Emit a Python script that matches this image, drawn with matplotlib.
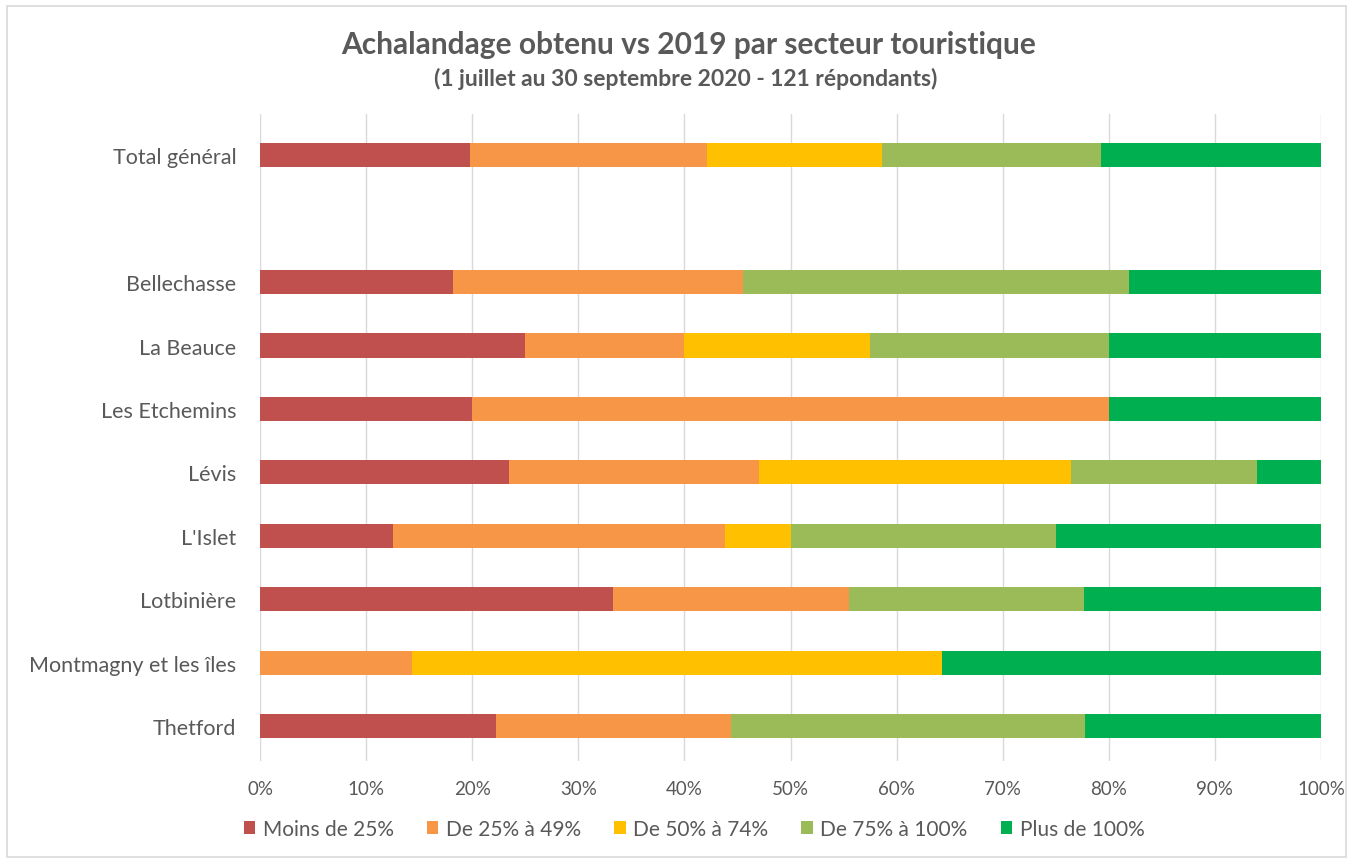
import matplotlib.pyplot as plt
from matplotlib.patches import Rectangle
import numpy as np

plt.rcParams['font.family'] = ['Lato', 'DejaVu Sans']

secteurs = ["Total général", "", "Bellechasse", "La Beauce", "Les Etchemins", "Lévis",
            "L'Islet", "Lotbinière", "Montmagny et les îles", "Thetford"]
categories = ["Moins de 25%", "De 25% à 49%", "De 50% à 74%", "De 75% à 100%", "Plus de 100%"]
couleurs = ["#C0504D", "#F79646", "#FFC000", "#9BBB59", "#00B050"]

# parts en %, une liste par catégorie (ordre des secteurs ci-dessus, vide = 0)
moins_25 = [19.8, 0, 18.2, 25.0, 20.0, 23.5, 12.5, 33.3, 0.0, 22.2]
de_25_49 = [22.3, 0, 27.3, 15.0, 60.0, 23.5, 31.3, 22.2, 14.3, 22.2]
de_50_74 = [16.5, 0, 0.0, 17.5, 0.0, 29.4, 6.2, 0.0, 50.0, 0.0]
de_75_100 = [20.7, 0, 36.4, 22.5, 0.0, 17.6, 25.0, 22.2, 0.0, 33.4]
plus_100 = [20.7, 0, 18.1, 20.0, 20.0, 6.0, 25.0, 22.3, 35.7, 22.2]

series = [moins_25, de_25_49, de_50_74, de_75_100, plus_100]

fig = plt.figure(figsize=(13.53, 8.62), dpi=100)
ax = fig.add_axes([260 / 1353, 1 - 762 / 862, 1061 / 1353, 647 / 862])

y = np.arange(len(secteurs))
left = np.zeros(len(secteurs))
for vals, lab, col in zip(series, categories, couleurs):
    vals = np.array(vals) / 100
    ax.barh(y, vals, left=left, height=0.38, color=col, label=lab, zorder=3)
    left += vals

ax.set_xlim(0, 1)
ax.set_ylim(9.55, -0.65)
ax.set_xticks(np.linspace(0, 1, 11))
ax.set_xticklabels([f"{i}%" for i in range(0, 101, 10)])
ax.set_yticks(y)
ax.set_yticklabels(secteurs)
ax.grid(axis="x", color="#D9D9D9", linewidth=1, zorder=0)
for s in ax.spines.values():
    s.set_visible(False)
ax.tick_params(length=0, colors="#595959", labelsize=13.5)
ax.tick_params(axis="y", labelsize=15.5, pad=17)
ax.tick_params(axis="x", pad=14)

fig.text(0.509, 1 - 45 / 862, "Achalandage obtenu vs 2019 par secteur touristique",
         ha="center", va="center", fontsize=21.5, fontweight="bold", color="#595959")
fig.text(0.507, 1 - 79 / 862, "(1 juillet au 30 septembre 2020 - 121 répondants)",
         ha="center", va="center", fontsize=16.5, fontweight="bold", color="#595959")

fig.legend(loc="center", bbox_to_anchor=(0.513, 1 - 830 / 862), ncol=5, frameon=False,
           fontsize=15, handlelength=0.55, handleheight=0.55, handletextpad=0.35,
           columnspacing=1.6, labelcolor="#595959")

fig.patches.append(Rectangle((7 / 1353, 0.005), 1 - 14 / 1353, 1 - 7 / 862 - 0.005,
                             transform=fig.transFigure, fill=False,
                             edgecolor="#D9D9D9", linewidth=1.2))

fig.savefig("out.png", dpi=100)
